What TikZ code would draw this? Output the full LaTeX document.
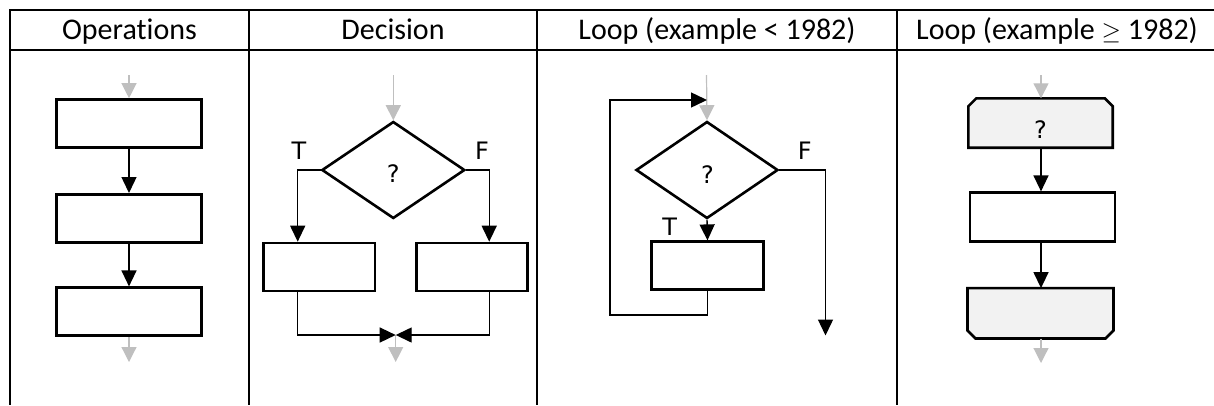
\documentclass[tikz,border=0pt]{standalone}
\usepackage{fontspec}
\setmainfont{Carlito}[Ligatures={NoCommon}]
\newfontfamily\lblfont{DejaVu Sans}
\usetikzlibrary{arrows.meta,shapes.geometric}
\definecolor{arrgray}{HTML}{BFBFBF}
\definecolor{boxfill}{HTML}{F2F2F2}
\begin{document}
\begin{tikzpicture}[x=1pt,y=-1pt,
  grid/.style={line width=1.8pt},
  hdr/.style={font=\fontsize{30}{32}\selectfont, inner sep=0, anchor=base},
  lbl/.style={font=\lblfont\fontsize{24}{27}\selectfont, inner sep=0},
  opbox/.style={draw, line width=2.6pt, minimum width=145pt, minimum height=48pt, inner sep=0},
  ghost/.style={minimum width=145pt, minimum height=49pt, inner sep=0},
  dec/.style={diamond, draw, line width=2.6pt, minimum width=143pt, minimum height=97pt, inner sep=0},
  cham/.style={draw, fill=boxfill, line width=2.6pt},
  con/.style={line width=1.4pt, -{Triangle[length=16pt,width=15pt]}},
  gcon/.style={draw=arrgray, line width=1.2pt, -{Triangle[length=15pt,width=15pt,fill=arrgray]}}]
\useasboundingbox (0,0) rectangle (1214,405);
% table
\coordinate (t1) at (10,10);
\coordinate (t2) at (1214,10);
\coordinate (h1) at (10,50);
\coordinate (h2) at (1214,50);
\draw[grid] (t1) -- (t2);
\draw[grid] (h1) -- (h2);
\draw[grid] (10,9.1) -- (10,405);
\draw[grid] (249,9.1) -- (249,405);
\draw[grid] (537,9.1) -- (537,405);
\draw[grid] (897,9.1) -- (897,405);
\node[hdr] (hop) at (129.5,39.5) {Operations};
\node[hdr] (hdec) at (393,39.5) {Decision};
\node[hdr] (hlo) at (717,39.5) {Loop (example < 1982)};
\node[hdr] (hlt) at (1057,39.5) {Loop (example $\geq$ 1982)};

% Operations
\coordinate (o0) at (129,75);
\node[opbox] (o1) at (129,123.5) {};
\node[opbox] (o2) at (129,218.3) {};
\node[opbox] (o3) at (129,311.7) {};
\coordinate (o4) at (129,362);
\draw[gcon] (o0) -- (o1.north);
\draw[con] (o1) -- (o2);
\draw[con] (o2) -- (o3);
\draw[gcon] (o3.south) -- (o4);

% Decision
\coordinate (d0) at (393.3,75);
\node[dec] (d) at (393.3,170) {};
\node[lbl] (dq) at (393.3,174) {?};
\node[opbox, minimum width=111.7pt] (dl) at (319.2,267) {};
\node[opbox, minimum width=111pt] (dr) at (472.2,267) {};
\coordinate (dm) at (395.7,335);
\coordinate (d4) at (395.7,362);
\node[lbl] (dt) at (299,150.5) {T};
\node[lbl] (df) at (482,150.5) {F};
\draw[gcon] (d0) -- (d.north);
\draw[con] (d.west) -| ([xshift=-21.5pt]dl.north);
\draw[con] (d.east) -| ([xshift=17pt]dr.north);
\draw[gcon] (dm) -- (d4);
\draw[con] ([xshift=-21.5pt]dl.south) |- (dm);
\draw[con] ([xshift=17pt]dr.south) |- (dm);

% Loop < 1982
\coordinate (l0) at (706.5,75);
\node[dec, minimum width=142pt] (ld) at (707,170) {};
\node[lbl] (lq) at (707.5,175) {?};
\node[opbox, minimum width=111.6pt, minimum height=47.6pt] (lb) at (707.5,265.5) {};
\coordinate (lc) at (610,315);
\coordinate (lt) at (707,100);
\coordinate (lf) at (825.5,335.5);
\node[lbl] (ltl) at (669.7,227) {T};
\node[lbl] (lfl) at (804.7,151) {F};
\draw[gcon] (l0) -- (ld.north);
\draw[con] (ld.south) -- (lb.north);
\draw[con] (lb.south) |- (lc) |- (lt);
\draw[con] (ld.east) -| (lf);

% Loop >= 1982
\coordinate (c0) at (1041,75);
\node[ghost, minimum width=144pt] (c1) at (1040.5,123) {};
\filldraw[cham] ([xshift=8pt]c1.north west) -- ([xshift=-8pt]c1.north east)
  -- ([yshift=-8pt]c1.north east) -- (c1.south east) -- (c1.south west)
  -- ([yshift=-8pt]c1.north west) -- cycle;
\node[lbl] (cq) at (1040.5,129.7) {?};
\node[opbox, minimum width=145pt, minimum height=49pt] (c2) at (1042.5,217.2) {};
\node[ghost, minimum width=145.6pt, minimum height=50pt] (c3) at (1040.5,313.3) {};
\filldraw[cham] (c3.north west) -- (c3.north east)
  -- ([yshift=8pt]c3.south east) -- ([xshift=-8pt]c3.south east)
  -- ([xshift=8pt]c3.south west) -- ([yshift=8pt]c3.south west) -- cycle;
\coordinate (c4) at (1041,363);
\draw[gcon] (c0) -- (c1.north -| c0);
\draw[con] (c1.south -| c0) -- (c2.north -| c0);
\draw[con] (c2.south -| c0) -- (c3.north -| c0);
\draw[gcon] (c3.south -| c0) -- (c4);
\end{tikzpicture}
\end{document}
